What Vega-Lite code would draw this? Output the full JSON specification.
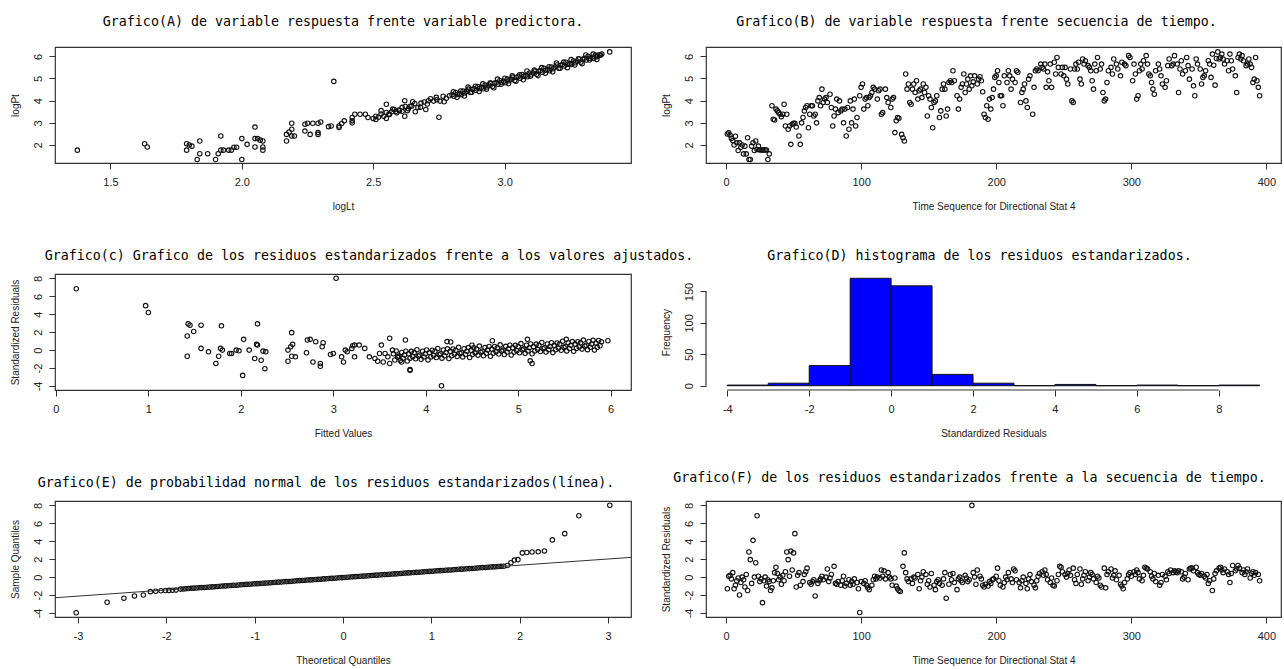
{
"$schema":"https://vega.github.io/schema/vega-lite/v6.json",
"autosize":{"type":"pad"},
"padding":{"left":9,"top":14,"right":0,"bottom":0},
"background":"white",
"columns":2,
"spacing":{"row":111,"column":75},
"bounds":"flush",
"config":{
"locale":{"number":{"decimal":".","thousands":",","grouping":[3],"currency":["$",""],"minus":"-"}},
"view":{"stroke":"#333","strokeWidth":1.2},
"axis":{"grid":false,"domain":false,"tickColor":"#333","tickSize":6,"tickWidth":1,"labelFont":"Liberation Sans","labelFontSize":11,"labelColor":"#222","labelOverlap":false,"labelFlush":false,"labelBound":false,"titleFont":"Liberation Sans","titleFontSize":10,"titleFontWeight":"normal","titleColor":"#222"},
"axisX":{"labelPadding":7,"titlePadding":14},
"axisY":{"labelAngle":-90,"labelAlign":"center","labelBaseline":"bottom","labelPadding":6,"titlePadding":12},
"title":{"font":"DejaVu Sans Mono","fontSize":13.3,"fontWeight":"normal","color":"#000","anchor":"middle","baseline":"middle","frame":"group"}
},
"datasets":{
"a":[
{"logLt":1.374,"logPt":1.77},{"logLt":1.63,"logPt":2.06},{"logLt":1.64,"logPt":1.91},{"logLt":1.79,"logPt":2.06},{"logLt":1.8,"logPt":2.0},{"logLt":1.79,"logPt":1.77},{"logLt":1.81,"logPt":1.95},{"logLt":1.84,"logPt":2.18},{"logLt":1.84,"logPt":1.61},{"logLt":1.83,"logPt":1.35},{"logLt":1.87,"logPt":1.61},{"logLt":1.9,"logPt":1.35},{"logLt":1.91,"logPt":1.61},{"logLt":1.92,"logPt":1.77},{"logLt":1.92,"logPt":2.41},{"logLt":1.93,"logPt":1.77},{"logLt":1.95,"logPt":1.77},{"logLt":1.96,"logPt":1.77},{"logLt":1.97,"logPt":1.9},{"logLt":1.98,"logPt":1.9},{"logLt":2.0,"logPt":1.35},{"logLt":2.0,"logPt":2.29},{"logLt":2.02,"logPt":2.03},{"logLt":2.05,"logPt":1.91},{"logLt":2.05,"logPt":2.29},{"logLt":2.06,"logPt":2.29},{"logLt":2.05,"logPt":2.81},{"logLt":2.08,"logPt":1.91},{"logLt":2.08,"logPt":2.18},{"logLt":2.07,"logPt":2.22},{"logLt":2.08,"logPt":1.77},
{"logLt":2.17,"logPt":2.18},{"logLt":2.17,"logPt":2.48},{"logLt":2.18,"logPt":2.59},{"logLt":2.19,"logPt":2.41},{"logLt":2.19,"logPt":2.98},{"logLt":2.19,"logPt":2.71},{"logLt":2.2,"logPt":2.41},{"logLt":2.24,"logPt":2.94},{"logLt":2.24,"logPt":2.63},{"logLt":2.25,"logPt":2.98},{"logLt":2.27,"logPt":2.98},{"logLt":2.29,"logPt":2.98},{"logLt":2.3,"logPt":3.04},{"logLt":2.26,"logPt":2.48},{"logLt":2.29,"logPt":2.48},{"logLt":2.29,"logPt":2.56},{"logLt":2.33,"logPt":2.83},{"logLt":2.34,"logPt":2.86},{"logLt":2.35,"logPt":4.87},{"logLt":2.37,"logPt":2.86},{"logLt":2.38,"logPt":2.97},{"logLt":2.39,"logPt":3.09},{"logLt":2.37,"logPt":2.79},{"logLt":2.42,"logPt":3.0},{"logLt":2.42,"logPt":3.24},{"logLt":2.42,"logPt":3.09},{"logLt":2.43,"logPt":3.39},{"logLt":2.45,"logPt":3.39},{"logLt":2.47,"logPt":3.39},{"logLt":2.48,"logPt":3.24},
{"logLt":2.5,"logPt":3.2},{"logLt":2.51,"logPt":3.15},{"logLt":2.51,"logPt":3.3},{"logLt":2.52,"logPt":3.25},{"logLt":2.53,"logPt":3.4},{"logLt":2.53,"logPt":3.55},{"logLt":2.54,"logPt":3.3},{"logLt":2.55,"logPt":3.2},{"logLt":2.55,"logPt":3.84},{"logLt":2.56,"logPt":3.4},{"logLt":2.57,"logPt":3.5},{"logLt":2.58,"logPt":3.6},{"logLt":2.59,"logPt":3.45},{"logLt":2.6,"logPt":3.55},{"logLt":2.61,"logPt":3.7},{"logLt":2.62,"logPt":4.0},{"logLt":2.62,"logPt":3.3},{"logLt":2.63,"logPt":3.55},{"logLt":2.64,"logPt":3.75},{"logLt":2.75,"logPt":3.25},
{"logLt":2.65,"logPt":3.95},{"logLt":2.68,"logPt":3.7},{"logLt":2.71,"logPt":4.0},{"logLt":2.74,"logPt":4.15},{"logLt":2.77,"logPt":3.95},{"logLt":2.7,"logPt":3.6},{"logLt":2.66,"logPt":3.5},
{"logLt":2.55,"logPt":3.47},{"logLt":2.562,"logPt":3.38},{"logLt":2.574,"logPt":3.62},{"logLt":2.586,"logPt":3.51},{"logLt":2.598,"logPt":3.58},{"logLt":2.61,"logPt":3.52},{"logLt":2.622,"logPt":3.74},{"logLt":2.634,"logPt":3.64},{"logLt":2.646,"logPt":3.75},{"logLt":2.658,"logPt":3.87},{"logLt":2.67,"logPt":3.69},{"logLt":2.682,"logPt":3.89},{"logLt":2.694,"logPt":3.94},{"logLt":2.706,"logPt":3.85},{"logLt":2.718,"logPt":4.09},{"logLt":2.73,"logPt":3.98},{"logLt":2.742,"logPt":4.04},{"logLt":2.754,"logPt":3.98},{"logLt":2.766,"logPt":4.2},{"logLt":2.778,"logPt":4.11},{"logLt":2.79,"logPt":4.22},
{"logLt":2.8,"logPt":4.27},{"logLt":2.807,"logPt":4.2},{"logLt":2.814,"logPt":4.37},{"logLt":2.821,"logPt":4.28},{"logLt":2.828,"logPt":4.32},{"logLt":2.835,"logPt":4.27},{"logLt":2.842,"logPt":4.43},{"logLt":2.849,"logPt":4.35},{"logLt":2.856,"logPt":4.43},{"logLt":2.863,"logPt":4.52},{"logLt":2.87,"logPt":4.37},{"logLt":2.877,"logPt":4.51},{"logLt":2.884,"logPt":4.54},{"logLt":2.891,"logPt":4.47},{"logLt":2.898,"logPt":4.64},{"logLt":2.905,"logPt":4.55},{"logLt":2.912,"logPt":4.6},{"logLt":2.919,"logPt":4.54},{"logLt":2.926,"logPt":4.7},{"logLt":2.933,"logPt":4.62},{"logLt":2.94,"logPt":4.71},{"logLt":2.947,"logPt":4.79},{"logLt":2.954,"logPt":4.64},{"logLt":2.961,"logPt":4.78},{"logLt":2.968,"logPt":4.82},{"logLt":2.975,"logPt":4.74},{"logLt":2.982,"logPt":4.91},{"logLt":2.989,"logPt":4.82},{"logLt":2.996,"logPt":4.87},{"logLt":3.003,"logPt":4.81},{"logLt":3.01,"logPt":4.97},{"logLt":3.017,"logPt":4.9},{"logLt":3.024,"logPt":4.98},{"logLt":3.031,"logPt":5.06},{"logLt":3.038,"logPt":4.91},{"logLt":3.045,"logPt":5.06},{"logLt":3.052,"logPt":5.09},{"logLt":3.059,"logPt":5.01},{"logLt":3.066,"logPt":5.18},{"logLt":3.073,"logPt":5.1},{"logLt":3.08,"logPt":5.14},{"logLt":3.087,"logPt":5.08},{"logLt":3.094,"logPt":5.25},{"logLt":3.101,"logPt":5.17},{"logLt":3.108,"logPt":5.25},{"logLt":3.115,"logPt":5.33},{"logLt":3.122,"logPt":5.19},{"logLt":3.129,"logPt":5.33},{"logLt":3.136,"logPt":5.36},{"logLt":3.143,"logPt":5.28},{"logLt":3.15,"logPt":5.46},{"logLt":3.157,"logPt":5.37},{"logLt":3.164,"logPt":5.41},{"logLt":3.171,"logPt":5.35},{"logLt":3.178,"logPt":5.52},{"logLt":3.185,"logPt":5.44},{"logLt":3.192,"logPt":5.52},{"logLt":3.199,"logPt":5.61},{"logLt":3.206,"logPt":5.46},{"logLt":3.213,"logPt":5.6},{"logLt":3.22,"logPt":5.63},{"logLt":3.227,"logPt":5.56},{"logLt":3.234,"logPt":5.73},{"logLt":3.241,"logPt":5.64},{"logLt":3.248,"logPt":5.68},{"logLt":3.255,"logPt":5.63},{"logLt":3.262,"logPt":5.79},{"logLt":3.269,"logPt":5.71},{"logLt":3.276,"logPt":5.79},{"logLt":3.283,"logPt":5.88},{"logLt":3.29,"logPt":5.73},{"logLt":3.297,"logPt":5.87},{"logLt":3.304,"logPt":5.91},{"logLt":3.311,"logPt":5.83},{"logLt":3.318,"logPt":6.0},{"logLt":3.325,"logPt":5.91},{"logLt":3.332,"logPt":5.96},{"logLt":3.339,"logPt":5.9},{"logLt":3.346,"logPt":6.06},{"logLt":3.353,"logPt":5.98},{"logLt":3.36,"logPt":6.07},
{"logLt":2.805,"logPt":4.4},{"logLt":2.819,"logPt":4.15},{"logLt":2.833,"logPt":4.44},{"logLt":2.847,"logPt":4.21},{"logLt":2.861,"logPt":4.61},{"logLt":2.875,"logPt":4.38},{"logLt":2.889,"logPt":4.65},{"logLt":2.903,"logPt":4.41},{"logLt":2.917,"logPt":4.76},{"logLt":2.931,"logPt":4.52},{"logLt":2.945,"logPt":4.8},{"logLt":2.959,"logPt":4.58},{"logLt":2.973,"logPt":4.97},{"logLt":2.987,"logPt":4.74},{"logLt":3.001,"logPt":5.01},{"logLt":3.015,"logPt":4.77},{"logLt":3.029,"logPt":5.12},{"logLt":3.043,"logPt":4.88},{"logLt":3.057,"logPt":5.17},{"logLt":3.071,"logPt":4.94},{"logLt":3.085,"logPt":5.34},{"logLt":3.099,"logPt":5.1},{"logLt":3.113,"logPt":5.38},{"logLt":3.127,"logPt":5.13},{"logLt":3.141,"logPt":5.49},{"logLt":3.155,"logPt":5.24},{"logLt":3.169,"logPt":5.53},{"logLt":3.183,"logPt":5.3},{"logLt":3.197,"logPt":5.7},{"logLt":3.211,"logPt":5.46},{"logLt":3.225,"logPt":5.74},{"logLt":3.239,"logPt":5.49},{"logLt":3.253,"logPt":5.85},{"logLt":3.267,"logPt":5.61},{"logLt":3.281,"logPt":5.89},{"logLt":3.295,"logPt":5.67},{"logLt":3.309,"logPt":6.06},{"logLt":3.323,"logPt":5.83},{"logLt":3.337,"logPt":6.1},{"logLt":3.351,"logPt":5.86},
{"logLt":3.35,"logPt":6.0},{"logLt":3.365,"logPt":6.05},{"logLt":3.37,"logPt":6.1},{"logLt":3.4,"logPt":6.2}
],
"b":[
{"t":1,"logPt":2.5},{"t":2,"logPt":2.55},{"t":3,"logPt":2.45},{"t":4,"logPt":2.3},{"t":5,"logPt":2.2},{"t":6,"logPt":2.0},{"t":7,"logPt":2.4},{"t":8,"logPt":2.1},{"t":9,"logPt":1.75},{"t":10,"logPt":2.1},{"t":11,"logPt":1.9},{"t":12,"logPt":2.0},{"t":13,"logPt":1.6},{"t":14,"logPt":1.95},{"t":15,"logPt":1.6},{"t":16,"logPt":2.33},{"t":17,"logPt":1.35},{"t":18,"logPt":1.35},{"t":19,"logPt":1.95},{"t":20,"logPt":2.1},{"t":21,"logPt":1.75},{"t":22,"logPt":2.18},{"t":23,"logPt":1.8},{"t":24,"logPt":1.95},{"t":25,"logPt":1.78},{"t":26,"logPt":1.78},{"t":27,"logPt":1.78},{"t":28,"logPt":1.78},{"t":29,"logPt":1.78},{"t":30,"logPt":1.78},{"t":31,"logPt":1.35},{"t":32,"logPt":1.6},
{"t":34,"logPt":3.77},{"t":35,"logPt":3.16},{"t":36,"logPt":3.13},{"t":37,"logPt":3.62},{"t":38,"logPt":3.54},{"t":39,"logPt":3.46},{"t":40,"logPt":3.39},{"t":41,"logPt":3.28},{"t":42,"logPt":3.39},{"t":43,"logPt":3.84},{"t":44,"logPt":2.86},{"t":45,"logPt":3.39},{"t":46,"logPt":2.71},{"t":47,"logPt":2.86},{"t":48,"logPt":2.03},{"t":49,"logPt":2.94},{"t":50,"logPt":2.98},{"t":51,"logPt":2.98},{"t":52,"logPt":2.81},{"t":54,"logPt":2.41},{"t":55,"logPt":2.03},{"t":56,"logPt":3.0},{"t":57,"logPt":3.24},{"t":58,"logPt":3.54},{"t":59,"logPt":3.69},{"t":60,"logPt":3.77},{"t":61,"logPt":2.78},{"t":62,"logPt":3.39},{"t":63,"logPt":3.77},{"t":64,"logPt":3.77},{"t":65,"logPt":3.31},{"t":66,"logPt":3.39},{"t":67,"logPt":3.0},{"t":68,"logPt":3.99},{"t":69,"logPt":4.14},{"t":70,"logPt":3.77},{"t":71,"logPt":4.52},{"t":72,"logPt":3.92},{"t":73,"logPt":4.07},{"t":74,"logPt":4.14},{"t":75,"logPt":3.92},{"t":77,"logPt":4.29},{"t":78,"logPt":3.69},{"t":79,"logPt":2.86},{"t":80,"logPt":3.31},{"t":81,"logPt":3.62},{"t":82,"logPt":4.07},{"t":83,"logPt":3.46},{"t":84,"logPt":3.99},{"t":85,"logPt":3.54},{"t":86,"logPt":3.62},{"t":87,"logPt":3.0},{"t":88,"logPt":3.62},{"t":89,"logPt":2.41},{"t":90,"logPt":3.69},{"t":91,"logPt":2.71},{"t":92,"logPt":3.99},{"t":93,"logPt":3.0},{"t":94,"logPt":3.62},{"t":95,"logPt":4.07},{"t":96,"logPt":2.86},{"t":97,"logPt":3.24},{"t":99,"logPt":4.22},{"t":100,"logPt":4.6},{"t":101,"logPt":4.75},{"t":102,"logPt":3.62},{"t":103,"logPt":4.07},{"t":104,"logPt":4.14},{"t":105,"logPt":3.77},{"t":106,"logPt":4.14},{"t":107,"logPt":4.22},{"t":108,"logPt":4.37},{"t":109,"logPt":4.6},{"t":110,"logPt":4.52},{"t":112,"logPt":4.07},{"t":113,"logPt":4.45},{"t":114,"logPt":4.52},{"t":115,"logPt":3.39},{"t":116,"logPt":3.46},{"t":118,"logPt":4.52},{"t":119,"logPt":4.14},{"t":120,"logPt":3.92},{"t":122,"logPt":3.69},{"t":123,"logPt":4.07},{"t":124,"logPt":4.14},{"t":125,"logPt":2.56},{"t":126,"logPt":3.09},{"t":127,"logPt":3.24},{"t":128,"logPt":3.21},{"t":130,"logPt":2.48},{"t":131,"logPt":2.33},{"t":132,"logPt":2.18},{"t":133,"logPt":5.2},{"t":134,"logPt":4.52},{"t":135,"logPt":4.75},{"t":136,"logPt":3.92},{"t":137,"logPt":3.84},{"t":138,"logPt":4.52},{"t":139,"logPt":4.75},{"t":140,"logPt":4.37},{"t":141,"logPt":4.9},{"t":142,"logPt":4.07},{"t":143,"logPt":4.45},{"t":144,"logPt":4.52},{"t":145,"logPt":4.14},{"t":146,"logPt":4.75},{"t":147,"logPt":4.37},{"t":148,"logPt":4.6},{"t":149,"logPt":3.31},{"t":150,"logPt":4.22},{"t":151,"logPt":4.07},{"t":152,"logPt":3.69},{"t":153,"logPt":2.78},{"t":154,"logPt":3.92},{"t":155,"logPt":3.99},{"t":156,"logPt":4.22},{"t":158,"logPt":3.24},{"t":159,"logPt":3.54},{"t":160,"logPt":4.52},{"t":161,"logPt":4.75},{"t":162,"logPt":4.52},{"t":163,"logPt":3.31},{"t":164,"logPt":3.62},{"t":165,"logPt":4.82},{"t":166,"logPt":4.9},{"t":167,"logPt":4.82},{"t":168,"logPt":5.35},{"t":169,"logPt":4.9},{"t":171,"logPt":4.22},{"t":172,"logPt":3.62},{"t":173,"logPt":4.07},{"t":174,"logPt":4.6},{"t":175,"logPt":4.75},{"t":176,"logPt":5.2},{"t":177,"logPt":4.37},{"t":178,"logPt":4.75},{"t":179,"logPt":4.97},{"t":180,"logPt":4.52},{"t":181,"logPt":5.12},{"t":182,"logPt":4.67},{"t":183,"logPt":4.85},{"t":184,"logPt":5.12},{"t":186,"logPt":4.75},{"t":187,"logPt":4.97},{"t":188,"logPt":5.08},{"t":189,"logPt":4.9},{"t":190,"logPt":4.4},{"t":191,"logPt":3.39},{"t":192,"logPt":3.24},{"t":193,"logPt":3.77},{"t":194,"logPt":3.16},{"t":195,"logPt":4.07},{"t":196,"logPt":3.62},{"t":197,"logPt":4.14},{"t":198,"logPt":4.52},{"t":199,"logPt":5.05},{"t":200,"logPt":5.12},{"t":201,"logPt":5.35},{"t":202,"logPt":4.82},{"t":203,"logPt":4.22},{"t":204,"logPt":4.22},{"t":205,"logPt":3.77},{"t":206,"logPt":5.12},{"t":208,"logPt":4.82},{"t":209,"logPt":5.35},{"t":210,"logPt":5.12},{"t":211,"logPt":4.52},{"t":212,"logPt":4.97},{"t":214,"logPt":4.82},{"t":215,"logPt":5.35},{"t":216,"logPt":5.28},{"t":218,"logPt":3.92},{"t":219,"logPt":4.37},{"t":220,"logPt":4.52},{"t":221,"logPt":4.75},{"t":222,"logPt":3.99},{"t":223,"logPt":3.69},{"t":224,"logPt":4.97},{"t":225,"logPt":5.12},{"t":227,"logPt":3.39},{"t":228,"logPt":4.6},{"t":229,"logPt":5.35},{"t":230,"logPt":5.43},{"t":231,"logPt":5.35},{"t":233,"logPt":5.65},{"t":234,"logPt":5.5},{"t":235,"logPt":5.43},{"t":236,"logPt":5.65},{"t":237,"logPt":4.6},{"t":238,"logPt":5.3},{"t":239,"logPt":4.9},{"t":240,"logPt":5.65},{"t":241,"logPt":4.6},{"t":243,"logPt":5.73},{"t":244,"logPt":5.2},{"t":245,"logPt":5.95},{"t":246,"logPt":5.5},{"t":248,"logPt":5.2},{"t":249,"logPt":5.5},{"t":250,"logPt":5.12},{"t":251,"logPt":5.5},{"t":252,"logPt":4.97},{"t":253,"logPt":4.75},{"t":255,"logPt":5.43},{"t":256,"logPt":3.99},{"t":257,"logPt":3.92},{"t":258,"logPt":5.43},{"t":259,"logPt":5.65},{"t":260,"logPt":5.43},{"t":261,"logPt":5.73},{"t":262,"logPt":4.97},{"t":263,"logPt":4.75},{"t":264,"logPt":5.88},{"t":265,"logPt":5.65},{"t":266,"logPt":5.8},{"t":268,"logPt":5.58},{"t":269,"logPt":5.5},{"t":270,"logPt":5.35},{"t":271,"logPt":4.9},{"t":272,"logPt":4.52},{"t":273,"logPt":5.65},{"t":274,"logPt":5.35},{"t":275,"logPt":5.95},{"t":277,"logPt":5.43},{"t":278,"logPt":5.65},{"t":279,"logPt":4.37},{"t":280,"logPt":3.99},{"t":281,"logPt":4.07},{"t":282,"logPt":4.82},{"t":283,"logPt":5.35},{"t":285,"logPt":5.5},{"t":286,"logPt":5.2},{"t":287,"logPt":5.88},{"t":289,"logPt":5.65},{"t":290,"logPt":5.43},{"t":292,"logPt":5.12},{"t":293,"logPt":5.73},{"t":295,"logPt":5.65},{"t":296,"logPt":5.58},{"t":298,"logPt":6.03},{"t":299,"logPt":5.95},{"t":301,"logPt":4.9},{"t":302,"logPt":5.65},{"t":303,"logPt":5.2},{"t":304,"logPt":4.07},{"t":305,"logPt":4.22},{"t":306,"logPt":5.35},{"t":307,"logPt":5.65},{"t":308,"logPt":5.43},{"t":309,"logPt":5.8},{"t":311,"logPt":6.03},{"t":312,"logPt":5.65},{"t":313,"logPt":5.2},{"t":314,"logPt":5.12},{"t":315,"logPt":4.82},{"t":316,"logPt":4.52},{"t":317,"logPt":4.29},{"t":318,"logPt":5.35},{"t":320,"logPt":5.65},{"t":321,"logPt":5.43},{"t":322,"logPt":5.12},{"t":323,"logPt":4.75},{"t":325,"logPt":4.6},{"t":326,"logPt":4.9},{"t":327,"logPt":5.58},{"t":328,"logPt":5.88},{"t":330,"logPt":5.58},{"t":331,"logPt":5.65},{"t":332,"logPt":6.03},{"t":334,"logPt":5.65},{"t":335,"logPt":4.37},{"t":336,"logPt":5.43},{"t":337,"logPt":5.8},{"t":338,"logPt":5.2},{"t":340,"logPt":5.35},{"t":341,"logPt":5.95},{"t":342,"logPt":5.58},{"t":343,"logPt":4.97},{"t":345,"logPt":5.43},{"t":346,"logPt":4.67},{"t":347,"logPt":4.22},{"t":348,"logPt":5.88},{"t":349,"logPt":5.65},{"t":351,"logPt":5.43},{"t":352,"logPt":4.75},{"t":353,"logPt":5.05},{"t":354,"logPt":5.12},{"t":355,"logPt":5.35},{"t":357,"logPt":5.8},{"t":358,"logPt":5.65},{"t":359,"logPt":5.05},{"t":360,"logPt":6.1},{"t":361,"logPt":5.6},{"t":362,"logPt":4.7},{"t":363,"logPt":5.9},{"t":364,"logPt":6.2},{"t":365,"logPt":5.88},{"t":366,"logPt":5.95},{"t":367,"logPt":6.1},{"t":368,"logPt":5.88},{"t":369,"logPt":5.65},{"t":371,"logPt":5.8},{"t":372,"logPt":5.35},{"t":373,"logPt":6.1},{"t":374,"logPt":5.8},{"t":375,"logPt":5.43},{"t":377,"logPt":5.12},{"t":378,"logPt":4.37},{"t":379,"logPt":5.95},{"t":380,"logPt":6.1},{"t":381,"logPt":5.88},{"t":382,"logPt":6.03},{"t":383,"logPt":5.8},{"t":385,"logPt":5.58},{"t":386,"logPt":5.65},{"t":387,"logPt":5.88},{"t":388,"logPt":5.65},{"t":389,"logPt":5.5},{"t":390,"logPt":4.82},{"t":391,"logPt":4.97},{"t":392,"logPt":5.95},{"t":393,"logPt":4.9},{"t":394,"logPt":4.6},{"t":395,"logPt":4.22}
],
"c":[
{"fit":0.22,"res":6.85},{"fit":0.97,"res":4.96},{"fit":1.0,"res":4.2},{"fit":1.42,"res":1.58},{"fit":1.43,"res":2.93},{"fit":1.45,"res":2.78},{"fit":1.49,"res":2.07},{"fit":1.42,"res":-0.68},{"fit":1.57,"res":0.19},{"fit":1.57,"res":2.78},{"fit":1.65,"res":-0.19},{"fit":1.73,"res":-1.5},{"fit":1.76,"res":-0.68},{"fit":1.78,"res":0.19},{"fit":1.79,"res":2.71},{"fit":1.8,"res":0.0},{"fit":1.88,"res":-0.38},{"fit":1.9,"res":-0.38},{"fit":1.95,"res":0.0},{"fit":1.98,"res":-0.08},{"fit":2.02,"res":-2.82},{"fit":2.03,"res":1.2},{"fit":2.09,"res":0.0},{"fit":2.15,"res":-0.94},{"fit":2.17,"res":0.64},{"fit":2.18,"res":2.93},{"fit":2.18,"res":0.56},{"fit":2.22,"res":-1.13},{"fit":2.24,"res":-0.11},{"fit":2.27,"res":-0.19},{"fit":2.26,"res":-2.07},{"fit":2.51,"res":-1.24},{"fit":2.51,"res":0.0},{"fit":2.54,"res":0.38},{"fit":2.55,"res":-0.68},{"fit":2.55,"res":1.95},{"fit":2.56,"res":0.64},{"fit":2.59,"res":-0.75},{"fit":2.71,"res":-0.3},{"fit":2.72,"res":1.13},{"fit":2.75,"res":1.2},{"fit":2.78,"res":-1.32},{"fit":2.81,"res":0.94},{"fit":2.86,"res":-1.5},{"fit":2.86,"res":-1.8},{"fit":2.88,"res":0.38},{"fit":2.89,"res":0.83},{"fit":2.97,"res":-0.49},{"fit":3.0,"res":-0.38},{"fit":3.03,"res":8.01},{"fit":3.09,"res":-0.75},{"fit":3.11,"res":-1.32},{"fit":3.13,"res":0.0},{"fit":3.15,"res":-0.19},{"fit":3.2,"res":0.19},{"fit":3.21,"res":0.49},{"fit":3.23,"res":-0.75},{"fit":3.23,"res":0.56},{"fit":3.28,"res":0.56},{"fit":3.34,"res":0.19},{"fit":3.39,"res":-0.75},{"fit":3.45,"res":-0.94},{"fit":3.48,"res":-1.24},{"fit":3.5,"res":-0.38},{"fit":3.52,"res":0.56},{"fit":3.54,"res":-1.32},{"fit":3.56,"res":-0.38},{"fit":3.59,"res":-0.75},{"fit":3.61,"res":1.32},{"fit":3.61,"res":-1.5},{"fit":3.64,"res":0.0},{"fit":3.7,"res":-0.75},{"fit":3.74,"res":-1.32},{"fit":3.78,"res":1.13},{"fit":3.83,"res":-2.18},{"fit":3.83,"res":-2.26},
{"fit":3.65,"res":-0.41},{"fit":3.665,"res":-1.1},{"fit":3.68,"res":-0.09},{"fit":3.695,"res":-0.78},{"fit":3.71,"res":-0.67},{"fit":3.725,"res":-1.17},{"fit":3.74,"res":-0.26},{"fit":3.755,"res":-0.9},{"fit":3.77,"res":-0.54},{"fit":3.785,"res":-0.13},{"fit":3.8,"res":-1.22},{"fit":3.815,"res":-0.41},{"fit":3.83,"res":-0.9},{"fit":3.845,"res":-0.14},{"fit":3.86,"res":-0.73},{"fit":3.875,"res":-0.28},{"fit":3.89,"res":-0.97},{"fit":3.905,"res":0.04},{"fit":3.92,"res":-0.65},{"fit":3.935,"res":-0.54},{"fit":3.95,"res":-1.03},{"fit":3.965,"res":-0.12},{"fit":3.98,"res":-0.76},{"fit":3.995,"res":-0.4},{"fit":4.01,"res":0.01},{"fit":4.025,"res":-1.09},{"fit":4.04,"res":-0.28},{"fit":4.055,"res":-0.77},{"fit":4.07,"res":-0.01},{"fit":4.085,"res":-0.6},{"fit":4.1,"res":-0.14},{"fit":4.115,"res":-0.83},{"fit":4.13,"res":0.18},{"fit":4.145,"res":-0.51},{"fit":4.16,"res":-0.4},{"fit":4.175,"res":-0.9},{"fit":4.19,"res":0.01},{"fit":4.205,"res":-0.63},{"fit":4.22,"res":-0.27},{"fit":4.235,"res":0.14},{"fit":4.25,"res":-0.95},{"fit":4.265,"res":-0.14},{"fit":4.28,"res":-0.63},{"fit":4.295,"res":0.13},{"fit":4.31,"res":-0.46},{"fit":4.325,"res":-0.01},{"fit":4.34,"res":-0.7},{"fit":4.355,"res":0.31},{"fit":4.37,"res":-0.38},{"fit":4.385,"res":-0.27},{"fit":4.4,"res":-0.76},{"fit":4.415,"res":0.15},{"fit":4.43,"res":-0.49},{"fit":4.445,"res":-0.13},{"fit":4.46,"res":0.28},{"fit":4.475,"res":-0.82},{"fit":4.49,"res":-0.01},{"fit":4.505,"res":-0.5},{"fit":4.52,"res":0.26},{"fit":4.535,"res":-0.33},{"fit":4.55,"res":0.13},{"fit":4.565,"res":-0.56},{"fit":4.58,"res":0.45},{"fit":4.595,"res":-0.24},{"fit":4.61,"res":-0.13},{"fit":4.625,"res":-0.63},{"fit":4.64,"res":0.28},{"fit":4.655,"res":-0.36},{"fit":4.67,"res":0.0},{"fit":4.685,"res":0.41},{"fit":4.7,"res":-0.68},{"fit":4.715,"res":0.13},{"fit":4.73,"res":-0.36},{"fit":4.745,"res":0.4},{"fit":4.76,"res":-0.19},{"fit":4.775,"res":0.27},{"fit":4.79,"res":-0.43},{"fit":4.805,"res":0.58},{"fit":4.82,"res":-0.11},{"fit":4.835,"res":0.0},{"fit":4.85,"res":-0.49},{"fit":4.865,"res":0.42},{"fit":4.88,"res":-0.22},{"fit":4.895,"res":0.14},{"fit":4.91,"res":0.55},{"fit":4.925,"res":-0.55},{"fit":4.94,"res":0.26},{"fit":4.955,"res":-0.23},{"fit":4.97,"res":0.53},{"fit":4.985,"res":-0.06},{"fit":5.0,"res":0.4},{"fit":5.015,"res":-0.29},{"fit":5.03,"res":0.72},{"fit":5.045,"res":0.03},{"fit":5.06,"res":0.14},{"fit":5.075,"res":-0.36},{"fit":5.09,"res":0.55},{"fit":5.105,"res":-0.09},{"fit":5.12,"res":0.27},{"fit":5.135,"res":0.68},{"fit":5.15,"res":-0.41},{"fit":5.165,"res":0.4},{"fit":5.18,"res":-0.09},{"fit":5.195,"res":0.67},{"fit":5.21,"res":0.08},{"fit":5.225,"res":0.54},{"fit":5.24,"res":-0.16},{"fit":5.255,"res":0.85},{"fit":5.27,"res":0.16},{"fit":5.285,"res":0.27},{"fit":5.3,"res":-0.22},{"fit":5.315,"res":0.69},{"fit":5.33,"res":0.05},{"fit":5.345,"res":0.41},{"fit":5.36,"res":0.82},{"fit":5.375,"res":-0.28},{"fit":5.39,"res":0.53},{"fit":5.405,"res":0.04},{"fit":5.42,"res":0.8},{"fit":5.435,"res":0.21},{"fit":5.45,"res":0.67},{"fit":5.465,"res":-0.02},{"fit":5.48,"res":0.99},{"fit":5.495,"res":0.3},{"fit":5.51,"res":0.41},{"fit":5.525,"res":-0.09},{"fit":5.54,"res":0.82},{"fit":5.555,"res":0.18},{"fit":5.57,"res":0.54},{"fit":5.585,"res":0.95},{"fit":5.6,"res":-0.14},{"fit":5.615,"res":0.67},{"fit":5.63,"res":0.18},{"fit":5.645,"res":0.94},{"fit":5.66,"res":0.35},{"fit":5.675,"res":0.81},{"fit":5.69,"res":0.11},{"fit":5.705,"res":1.12},{"fit":5.72,"res":0.43},{"fit":5.735,"res":0.54},{"fit":5.75,"res":0.05},{"fit":5.765,"res":0.96},{"fit":5.78,"res":0.32},{"fit":5.795,"res":0.68},{"fit":5.81,"res":1.09},{"fit":5.825,"res":0.0},{"fit":5.84,"res":0.8},{"fit":5.855,"res":0.31},{"fit":5.87,"res":1.07},{"fit":5.885,"res":0.48},{"fit":5.9,"res":0.94},{"fit":5.97,"res":1.05},
{"fit":4.17,"res":-3.98},{"fit":5.13,"res":-1.2},{"fit":5.15,"res":-1.5},{"fit":4.23,"res":0.95},{"fit":4.27,"res":0.9},{"fit":4.72,"res":1.05},{"fit":4.5,"res":0.55},{"fit":5.52,"res":1.2},{"fit":5.1,"res":1.2}
],
"d":[
{"lo":-4,"hi":-3,"n":1},{"lo":-3,"hi":-2,"n":4},{"lo":-2,"hi":-1,"n":32},{"lo":-1,"hi":0,"n":171},{"lo":0,"hi":1,"n":159},{"lo":1,"hi":2,"n":18},{"lo":2,"hi":3,"n":4},{"lo":3,"hi":4,"n":0},{"lo":4,"hi":5,"n":2},{"lo":5,"hi":6,"n":0},{"lo":6,"hi":7,"n":1},{"lo":7,"hi":8,"n":0},{"lo":8,"hi":9,"n":1}
],
"e":[
{"q":-3.02,"s":-3.97},{"q":-2.67,"s":-2.8},{"q":-2.48,"s":-2.35},{"q":-2.36,"s":-2.1},{"q":-2.26,"s":-2.0},{"q":-2.18,"s":-1.62},{"q":-2.12,"s":-1.58},{"q":-2.06,"s":-1.52},{"q":-2.01,"s":-1.5},{"q":-1.97,"s":-1.48},{"q":-1.93,"s":-1.47},{"q":-1.89,"s":-1.45},
{"q":-1.84,"s":-1.34},{"q":-1.81,"s":-1.32},{"q":-1.78,"s":-1.3},{"q":-1.75,"s":-1.28},{"q":-1.72,"s":-1.25},{"q":-1.69,"s":-1.23},{"q":-1.66,"s":-1.21},{"q":-1.63,"s":-1.19},{"q":-1.6,"s":-1.17},{"q":-1.57,"s":-1.15},{"q":-1.54,"s":-1.13},{"q":-1.51,"s":-1.11},{"q":-1.48,"s":-1.09},{"q":-1.45,"s":-1.07},{"q":-1.42,"s":-1.04},{"q":-1.39,"s":-1.02},{"q":-1.36,"s":-1.0},{"q":-1.33,"s":-0.98},{"q":-1.3,"s":-0.96},{"q":-1.27,"s":-0.94},{"q":-1.24,"s":-0.92},{"q":-1.21,"s":-0.9},{"q":-1.18,"s":-0.88},{"q":-1.15,"s":-0.86},{"q":-1.12,"s":-0.83},{"q":-1.09,"s":-0.81},{"q":-1.06,"s":-0.79},{"q":-1.03,"s":-0.77},{"q":-1.0,"s":-0.75},{"q":-0.97,"s":-0.73},{"q":-0.94,"s":-0.71},{"q":-0.91,"s":-0.69},{"q":-0.88,"s":-0.67},{"q":-0.85,"s":-0.65},{"q":-0.82,"s":-0.62},{"q":-0.79,"s":-0.6},{"q":-0.76,"s":-0.58},{"q":-0.73,"s":-0.56},{"q":-0.7,"s":-0.54},{"q":-0.67,"s":-0.52},{"q":-0.64,"s":-0.5},{"q":-0.61,"s":-0.48},{"q":-0.58,"s":-0.46},{"q":-0.55,"s":-0.44},{"q":-0.52,"s":-0.41},{"q":-0.49,"s":-0.39},{"q":-0.46,"s":-0.37},{"q":-0.43,"s":-0.35},{"q":-0.4,"s":-0.33},{"q":-0.37,"s":-0.31},{"q":-0.34,"s":-0.29},{"q":-0.31,"s":-0.27},{"q":-0.28,"s":-0.25},{"q":-0.25,"s":-0.23},{"q":-0.22,"s":-0.2},{"q":-0.19,"s":-0.18},{"q":-0.16,"s":-0.16},{"q":-0.13,"s":-0.14},{"q":-0.1,"s":-0.12},{"q":-0.07,"s":-0.1},{"q":-0.04,"s":-0.08},{"q":-0.01,"s":-0.06},{"q":0.02,"s":-0.04},{"q":0.05,"s":-0.02},{"q":0.08,"s":0.01},{"q":0.11,"s":0.03},{"q":0.14,"s":0.05},{"q":0.17,"s":0.07},{"q":0.2,"s":0.09},{"q":0.23,"s":0.11},{"q":0.26,"s":0.13},{"q":0.29,"s":0.15},{"q":0.32,"s":0.17},{"q":0.35,"s":0.2},{"q":0.38,"s":0.22},{"q":0.41,"s":0.24},{"q":0.44,"s":0.26},{"q":0.47,"s":0.28},{"q":0.5,"s":0.3},{"q":0.53,"s":0.32},{"q":0.56,"s":0.34},{"q":0.59,"s":0.36},{"q":0.62,"s":0.38},{"q":0.65,"s":0.41},{"q":0.68,"s":0.43},{"q":0.71,"s":0.45},{"q":0.74,"s":0.47},{"q":0.77,"s":0.49},{"q":0.8,"s":0.51},{"q":0.83,"s":0.53},{"q":0.86,"s":0.55},{"q":0.89,"s":0.57},{"q":0.92,"s":0.59},{"q":0.95,"s":0.62},{"q":0.98,"s":0.64},{"q":1.01,"s":0.66},{"q":1.04,"s":0.68},{"q":1.07,"s":0.7},{"q":1.1,"s":0.72},{"q":1.13,"s":0.74},{"q":1.16,"s":0.76},{"q":1.19,"s":0.78},{"q":1.22,"s":0.8},{"q":1.25,"s":0.83},{"q":1.28,"s":0.85},{"q":1.31,"s":0.87},{"q":1.34,"s":0.89},{"q":1.37,"s":0.91},{"q":1.4,"s":0.93},{"q":1.43,"s":0.95},{"q":1.46,"s":0.97},{"q":1.49,"s":0.99},{"q":1.52,"s":1.01},{"q":1.55,"s":1.04},{"q":1.58,"s":1.06},{"q":1.61,"s":1.08},{"q":1.64,"s":1.1},{"q":1.67,"s":1.12},{"q":1.7,"s":1.14},{"q":1.73,"s":1.16},{"q":1.76,"s":1.18},{"q":1.79,"s":1.2},{"q":1.82,"s":1.22},
{"q":1.86,"s":1.3},{"q":1.9,"s":1.6},{"q":1.94,"s":1.9},{"q":1.98,"s":1.95},{"q":2.03,"s":2.7},{"q":2.08,"s":2.75},{"q":2.14,"s":2.8},{"q":2.21,"s":2.82},{"q":2.28,"s":2.92},{"q":2.37,"s":4.15},{"q":2.51,"s":4.85},{"q":2.67,"s":6.85},{"q":3.02,"s":8.01}
],
"f":[
{"t":1,"res":-1.3},{"t":2,"res":0.1},{"t":3,"res":0.2},{"t":4,"res":-0.2},{"t":5,"res":0.5},{"t":6,"res":-1.3},{"t":7,"res":-0.9},{"t":8,"res":-0.4},{"t":9,"res":-0.1},{"t":10,"res":-2.0},{"t":11,"res":-0.6},{"t":12,"res":0.0},{"t":13,"res":-0.3},{"t":14,"res":-1.1},{"t":15,"res":0.3},{"t":16,"res":-1.5},{"t":17,"res":2.8},{"t":18,"res":1.95},{"t":19,"res":-0.7},{"t":20,"res":4.1},{"t":21,"res":0.0},{"t":22,"res":1.6},{"t":23,"res":6.85},{"t":24,"res":0.1},{"t":25,"res":-0.5},{"t":26,"res":-0.2},{"t":27,"res":-2.85},{"t":28,"res":-0.4},{"t":29,"res":0.0},{"t":30,"res":-1.0},{"t":31,"res":-0.3},{"t":32,"res":-0.5},{"t":33,"res":-1.5},{"t":34,"res":-1.2},{"t":35,"res":-0.4},{"t":36,"res":0.5},{"t":37,"res":1.1},{"t":38,"res":0.4},{"t":39,"res":-0.3},{"t":40,"res":0.0},{"t":41,"res":-0.8},{"t":42,"res":0.2},{"t":43,"res":-0.4},{"t":44,"res":0.6},{"t":45,"res":2.8},{"t":46,"res":1.95},{"t":47,"res":0.1},{"t":48,"res":2.9},{"t":49,"res":0.8},{"t":50,"res":2.7},{"t":51,"res":4.85},{"t":52,"res":-1.1},
{"t":53,"res":0.2},{"t":54,"res":0.5},{"t":55,"res":-0.9},{"t":57,"res":-0.5},{"t":58,"res":0.3},{"t":59,"res":0.6},{"t":60,"res":1.0},{"t":62,"res":-0.6},{"t":63,"res":-0.8},{"t":64,"res":-0.5},{"t":65,"res":-0.3},{"t":66,"res":-2.1},{"t":68,"res":-0.7},{"t":69,"res":-0.4},{"t":70,"res":-0.2},{"t":71,"res":0.1},{"t":72,"res":-0.3},{"t":74,"res":0.0},{"t":75,"res":0.9},{"t":76,"res":-0.5},{"t":77,"res":-0.1},{"t":78,"res":0.3},{"t":80,"res":1.2},{"t":81,"res":-0.7},{"t":82,"res":-0.8},{"t":83,"res":-0.5},{"t":85,"res":-0.9},{"t":86,"res":-0.4},{"t":87,"res":0.1},{"t":88,"res":-1.0},{"t":89,"res":-0.7},{"t":91,"res":-0.3},{"t":92,"res":-0.9},
{"t":93,"res":-0.5},{"t":94,"res":-0.8},{"t":95,"res":-0.2},{"t":97,"res":-0.6},{"t":98,"res":-1.3},{"t":99,"res":-3.95},{"t":100,"res":-0.5},{"t":102,"res":-0.7},{"t":103,"res":-0.4},{"t":104,"res":-0.9},{"t":105,"res":-1.2},{"t":106,"res":-1.4},{"t":108,"res":-0.9},{"t":109,"res":-0.3},{"t":110,"res":0.1},{"t":111,"res":-0.2},{"t":112,"res":0.0},{"t":114,"res":-0.1},{"t":115,"res":0.8},{"t":116,"res":0.1},{"t":117,"res":0.7},{"t":118,"res":-0.2},{"t":120,"res":0.5},{"t":121,"res":0.0},{"t":122,"res":-0.2},{"t":123,"res":-0.9},{"t":125,"res":-0.1},{"t":126,"res":-1.0},{"t":127,"res":-1.3},{"t":128,"res":-1.5},{"t":129,"res":-1.6},{"t":131,"res":1.2},{"t":132,"res":2.7},
{"t":133,"res":0.5},{"t":134,"res":-0.2},{"t":135,"res":-0.5},{"t":137,"res":-0.2},{"t":138,"res":-0.7},{"t":139,"res":0.0},{"t":140,"res":-0.1},{"t":142,"res":0.3},{"t":143,"res":-1.3},{"t":144,"res":-0.4},{"t":145,"res":0.0},{"t":146,"res":0.6},{"t":148,"res":0.3},{"t":149,"res":-0.8},{"t":150,"res":-0.4},{"t":151,"res":-1.1},{"t":152,"res":0.4},{"t":154,"res":-0.9},{"t":155,"res":-1.4},{"t":156,"res":-0.5},{"t":157,"res":-0.3},{"t":158,"res":-0.7},{"t":160,"res":-0.9},{"t":161,"res":-0.2},{"t":162,"res":0.5},{"t":163,"res":-2.35},{"t":165,"res":-0.8},{"t":166,"res":0.3},{"t":167,"res":-0.3},{"t":168,"res":0.4},{"t":169,"res":-0.6},{"t":171,"res":-1.4},{"t":172,"res":-0.2},
{"t":173,"res":0.0},{"t":174,"res":-0.4},{"t":175,"res":-0.6},{"t":177,"res":0.2},{"t":178,"res":-0.1},{"t":179,"res":-0.5},{"t":180,"res":-0.3},{"t":182,"res":8.0},{"t":183,"res":0.5},{"t":184,"res":0.0},{"t":185,"res":-0.8},{"t":186,"res":0.8},{"t":188,"res":0.1},{"t":189,"res":-0.2},{"t":190,"res":-0.9},{"t":191,"res":-1.1},{"t":192,"res":-0.8},{"t":194,"res":-1.0},{"t":195,"res":-0.5},{"t":196,"res":-0.7},{"t":197,"res":-0.3},{"t":198,"res":-0.2},{"t":200,"res":0.1},{"t":201,"res":1.0},{"t":202,"res":-0.4},{"t":203,"res":-0.9},{"t":205,"res":-1.1},{"t":206,"res":-0.6},{"t":207,"res":0.0},{"t":208,"res":-0.3},{"t":209,"res":0.5},{"t":211,"res":-0.2},{"t":212,"res":-0.6},
{"t":213,"res":0.9},{"t":214,"res":0.7},{"t":215,"res":-0.3},{"t":217,"res":-0.6},{"t":218,"res":-1.2},{"t":219,"res":-0.4},{"t":220,"res":0.0},{"t":222,"res":-0.7},{"t":223,"res":-1.3},{"t":224,"res":-0.2},{"t":225,"res":0.3},{"t":226,"res":-0.5},{"t":228,"res":-0.9},{"t":229,"res":-1.2},{"t":230,"res":-0.4},{"t":231,"res":0.1},{"t":232,"res":0.4},{"t":234,"res":0.6},{"t":235,"res":0.2},{"t":236,"res":0.8},{"t":237,"res":0.3},{"t":238,"res":-0.3},{"t":240,"res":-0.6},{"t":241,"res":-0.1},{"t":242,"res":-0.9},{"t":243,"res":-1.0},{"t":245,"res":-0.4},{"t":246,"res":0.3},{"t":247,"res":1.2},{"t":248,"res":1.1},{"t":249,"res":0.6},{"t":251,"res":0.3},{"t":252,"res":0.0},
{"t":253,"res":0.4},{"t":254,"res":0.8},{"t":255,"res":0.2},{"t":257,"res":1.0},{"t":258,"res":-0.3},{"t":259,"res":-0.7},{"t":260,"res":0.3},{"t":262,"res":0.9},{"t":263,"res":-0.8},{"t":264,"res":-0.2},{"t":265,"res":0.2},{"t":266,"res":0.6},{"t":268,"res":-0.4},{"t":269,"res":0.0},{"t":270,"res":0.5},{"t":271,"res":0.3},{"t":272,"res":-0.2},{"t":274,"res":-0.6},{"t":275,"res":0.1},{"t":276,"res":-0.1},{"t":277,"res":-0.9},{"t":278,"res":-1.1},{"t":280,"res":1.0},{"t":281,"res":-1.2},{"t":282,"res":0.3},{"t":283,"res":0.6},{"t":285,"res":0.9},{"t":286,"res":-0.1},{"t":287,"res":0.2},{"t":288,"res":0.7},{"t":289,"res":-0.3},{"t":291,"res":0.2},{"t":292,"res":-0.8},
{"t":293,"res":-1.0},{"t":294,"res":-1.3},{"t":295,"res":-0.6},{"t":297,"res":-0.2},{"t":298,"res":0.3},{"t":299,"res":0.5},{"t":300,"res":0.1},{"t":302,"res":0.6},{"t":303,"res":0.3},{"t":304,"res":0.8},{"t":305,"res":0.5},{"t":306,"res":-0.2},{"t":308,"res":-0.4},{"t":309,"res":0.2},{"t":310,"res":1.1},{"t":311,"res":1.0},{"t":312,"res":0.9},{"t":314,"res":0.6},{"t":315,"res":0.1},{"t":316,"res":-0.2},{"t":317,"res":0.4},{"t":318,"res":-0.5},{"t":320,"res":0.2},{"t":321,"res":-0.9},{"t":322,"res":-0.6},{"t":323,"res":0.3},{"t":325,"res":0.1},{"t":326,"res":-0.3},{"t":327,"res":0.6},{"t":328,"res":0.4},{"t":329,"res":0.8},{"t":331,"res":0.5},{"t":332,"res":0.7},
{"t":333,"res":0.6},{"t":334,"res":0.5},{"t":335,"res":0.7},{"t":337,"res":0.6},{"t":338,"res":-0.2},{"t":339,"res":0.0},{"t":340,"res":0.4},{"t":342,"res":-0.3},{"t":343,"res":0.9},{"t":344,"res":1.0},{"t":345,"res":1.0},{"t":346,"res":0.7},{"t":348,"res":1.1},{"t":349,"res":0.5},{"t":350,"res":0.3},{"t":351,"res":0.2},{"t":352,"res":0.4},{"t":354,"res":0.1},{"t":355,"res":-0.1},{"t":356,"res":0.3},{"t":357,"res":-0.7},{"t":358,"res":-0.4},{"t":360,"res":-1.5},{"t":361,"res":-0.2},{"t":362,"res":0.4},{"t":363,"res":0.7},{"t":365,"res":1.0},{"t":366,"res":1.1},{"t":367,"res":0.8},{"t":368,"res":0.5},{"t":369,"res":0.9},{"t":371,"res":0.6},{"t":372,"res":0.3},
{"t":373,"res":-0.6},{"t":374,"res":0.4},{"t":375,"res":1.3},{"t":377,"res":0.7},{"t":378,"res":0.9},{"t":379,"res":1.3},{"t":380,"res":1.0},{"t":382,"res":0.5},{"t":383,"res":0.8},{"t":384,"res":0.3},{"t":385,"res":0.6},{"t":386,"res":0.9},{"t":388,"res":-0.1},{"t":389,"res":0.4},{"t":390,"res":0.6},{"t":391,"res":0.2},{"t":392,"res":0.5},{"t":394,"res":0.3},{"t":395,"res":-0.4}
]
},
"concat":[
{
"title":{"text":"Grafico(A) de variable respuesta frente variable predictora.","offset":19},
"width":576,"height":116,
"data":{"name":"a"},
"mark":{"type":"point","shape":"circle","filled":false,"size":20,"strokeWidth":1.1,"color":"#111","opacity":1},
"encoding":{
"x":{"field":"logLt","type":"quantitative","scale":{"domain":[1.289,3.481],"nice":false,"zero":false},"axis":{"values":[1.5,2,2.5,3],"format":".1f","title":"logLt"}},
"y":{"field":"logPt","type":"quantitative","scale":{"domain":[1.19,6.42],"nice":false,"zero":false},"axis":{"values":[2,3,4,5,6],"title":"logPt"}}
}
},
{
"title":{"text":"Grafico(B) de variable respuesta frente secuencia de tiempo.","offset":18.5,"dx":-17},
"width":575,"height":116,
"data":{"name":"b"},
"mark":{"type":"point","shape":"circle","filled":false,"size":20,"strokeWidth":1.1,"color":"#111","opacity":1},
"encoding":{
"x":{"field":"t","type":"quantitative","scale":{"domain":[-14.8,410.8],"nice":false,"zero":false},"axis":{"values":[0,100,200,300,400],"title":"Time Sequence for Directional Stat 4"}},
"y":{"field":"logPt","type":"quantitative","scale":{"domain":[1.19,6.42],"nice":false,"zero":false},"axis":{"values":[2,3,4,5,6],"title":"logPt"}}
}
},
{
"title":{"text":"Grafico(c) Grafico de los residuos estandarizados frente a los valores ajustados.","offset":11.5,"dx":26},
"width":576,"height":116,
"data":{"name":"c"},
"mark":{"type":"point","shape":"circle","filled":false,"size":20,"strokeWidth":1.1,"color":"#111","opacity":1},
"encoding":{
"x":{"field":"fit","type":"quantitative","scale":{"domain":[-0.01,6.22],"nice":false,"zero":false},"axis":{"values":[0,1,2,3,4,5,6],"title":"Fitted Values"}},
"y":{"field":"res","type":"quantitative","scale":{"domain":[-4.45,8.49],"nice":false,"zero":false},"axis":{"values":[-4,-2,0,2,4,6,8],"title":"Standardized Residuals"}}
}
},
{
"title":{"text":"Grafico(D) histograma de los residuos estandarizados.","offset":12,"dx":-14},
"width":575,"height":116,
"view":{"stroke":null},
"layer":[
{"data":{"name":"d"},
"mark":{"type":"bar","fill":"#0000FF","stroke":"#111","strokeWidth":1},
"encoding":{
"x":{"field":"lo","type":"quantitative","scale":{"domain":[-4.52,9.52],"nice":false,"zero":false},"axis":{"values":[-4,-2,0,2,4,6,8],"format":"d","title":"Standardized Residuals"}},
"x2":{"field":"hi"},
"y":{"field":"n","type":"quantitative","scale":{"domain":[-6.84,177.84],"nice":false,"zero":false},"axis":{"values":[0,50,100,150],"format":"d","title":"Frequency"}},
"y2":{"datum":0}
}},
{"data":{"values":[{}]},"mark":{"type":"rule","color":"#333","strokeWidth":1.2},"encoding":{"x":{"datum":-4,"type":"quantitative","axis":{"values":[-4,-2,0,2,4,6,8],"format":"d","title":"Standardized Residuals"}},"x2":{"datum":8},"y":{"datum":-6.84,"type":"quantitative","axis":{"values":[0,50,100,150],"format":"d","title":"Frequency"}}}},
{"data":{"values":[{}]},"mark":{"type":"rule","color":"#333","strokeWidth":1.2},"encoding":{"x":{"datum":-4.52,"type":"quantitative","axis":{"values":[-4,-2,0,2,4,6,8],"format":"d","title":"Standardized Residuals"}},"y":{"datum":0,"type":"quantitative","axis":{"values":[0,50,100,150],"format":"d","title":"Frequency"}},"y2":{"datum":150}}}
]
},
{
"title":{"text":"Grafico(E) de probabilidad normal de los residuos estandarizados(línea).","offset":11.5,"dx":-17},
"width":576,"height":116,
"layer":[
{"data":{"name":"e"},
"mark":{"type":"point","shape":"circle","filled":false,"size":20,"strokeWidth":1.1,"color":"#111","opacity":1},
"encoding":{
"x":{"field":"q","type":"quantitative","scale":{"domain":[-3.26,3.26],"nice":false,"zero":false},"axis":{"values":[-3,-2,-1,0,1,2,3],"format":"d","title":"Theoretical Quantiles"}},
"y":{"field":"s","type":"quantitative","scale":{"domain":[-4.45,8.49],"nice":false,"zero":false},"axis":{"values":[-4,-2,0,2,4,6,8],"format":"d","title":"Sample Quantiles"}}
}},
{"data":{"values":[{}]},"mark":{"type":"rule","color":"#333","strokeWidth":1},"encoding":{"x":{"datum":-3.26,"type":"quantitative","axis":{"values":[-3,-2,-1,0,1,2,3],"format":"d","title":"Theoretical Quantiles"}},"y":{"datum":-2.3,"type":"quantitative","axis":{"values":[-4,-2,0,2,4,6,8],"format":"d","title":"Sample Quantiles"}},"x2":{"datum":3.26},"y2":{"datum":2.2}}}
]
},
{
"title":{"text":"Grafico(F) de los residuos estandarizados frente a la secuencia de tiempo.","offset":17,"dx":-24},
"width":575,"height":116,
"data":{"name":"f"},
"mark":{"type":"point","shape":"circle","filled":false,"size":20,"strokeWidth":1.1,"color":"#111","opacity":1},
"encoding":{
"x":{"field":"t","type":"quantitative","scale":{"domain":[-14.8,410.8],"nice":false,"zero":false},"axis":{"values":[0,100,200,300,400],"title":"Time Sequence for Directional Stat 4"}},
"y":{"field":"res","type":"quantitative","scale":{"domain":[-4.45,8.49],"nice":false,"zero":false},"axis":{"values":[-4,-2,0,2,4,6,8],"title":"Standardized Residuals"}}
}
}
]
}
